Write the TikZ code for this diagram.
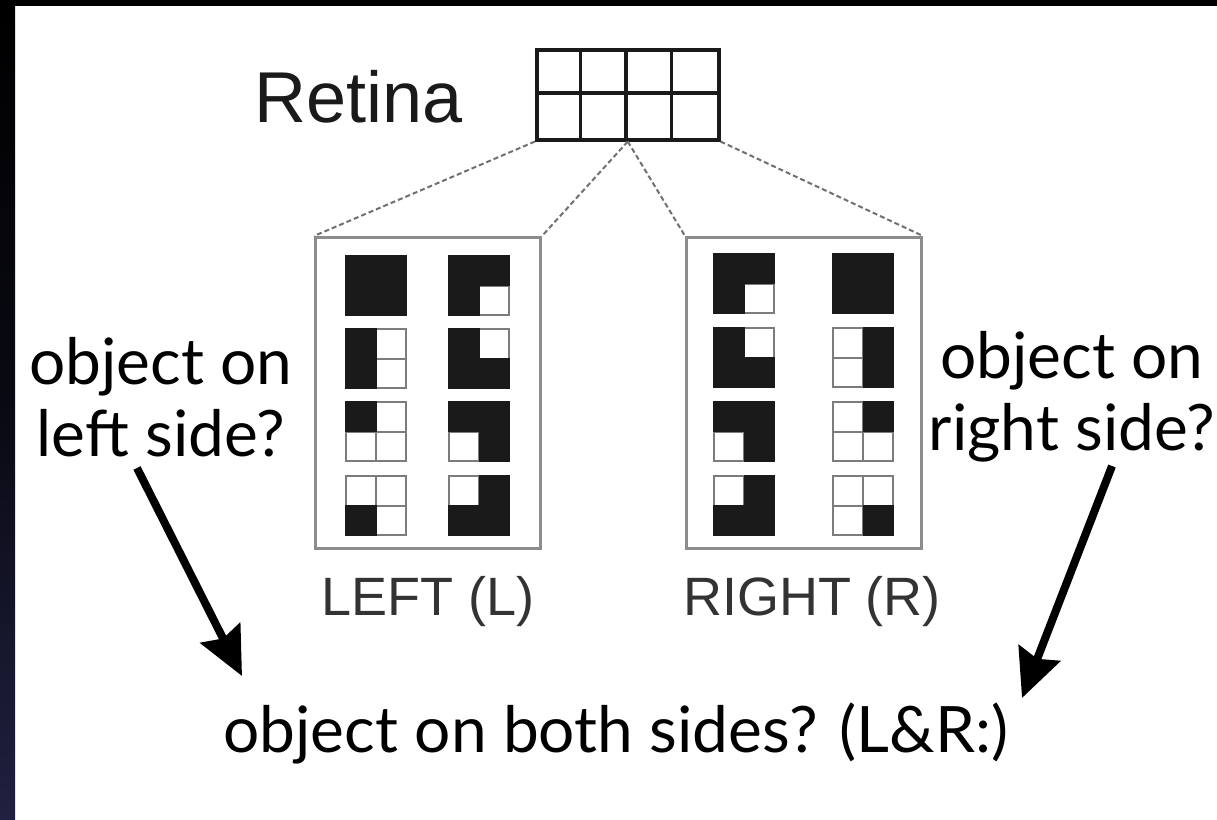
\documentclass[tikz,border=0pt]{standalone}
\usepackage{fontspec}
\setmainfont{Lato}
\newfontfamily\arialf{Liberation Sans}
\usetikzlibrary{arrows.meta}
\definecolor{ink}{HTML}{1A1A1A}
\definecolor{panelgray}{HTML}{8C8C8C}
\definecolor{cellgray}{HTML}{7C7C7C}
\definecolor{dashgray}{HTML}{707070}
\definecolor{labgray}{HTML}{333333}
\definecolor{navy}{RGB}{32,32,64}
\newcommand{\patsq}[6]{%
  \begin{scope}[shift={(#1,#2)}]
    \draw[cellline] (0,0) rectangle (60,59) (30,0) -- (30,59) (0,29.5) -- (60,29.5);
    \ifnum#3=1 \fill[ink] (-0.8,-0.8) rectangle (30.5,30);\fi
    \ifnum#4=1 \fill[ink] (29.5,-0.8) rectangle (60.8,30);\fi
    \ifnum#5=1 \fill[ink] (-0.8,29) rectangle (30.5,59.8);\fi
    \ifnum#6=1 \fill[ink] (29.5,29) rectangle (60.8,59.8);\fi
  \end{scope}}
\begin{document}
\begin{tikzpicture}[x=1pt,y=-1pt,
  gridbox/.style={draw=ink, line width=3.5pt, inner sep=0pt},
  gridline/.style={draw=ink, line width=3.5pt},
  panel/.style={draw=panelgray, line width=3pt, inner sep=0pt},
  cellline/.style={draw=cellgray, line width=2pt},
  link/.style={draw=dashgray, line width=2pt, dash pattern=on 5pt off 3pt},
  diag/.style={font=\arialf\fontsize{72}{80}\selectfont, text=ink, inner sep=0pt},
  sidelab/.style={font=\arialf\fontsize{54}{60}\selectfont, text=labgray, inner sep=0pt},
  question/.style={font=\fontsize{64}{72}\selectfont, text=black, inner sep=0pt, align=center},
  bigarrow/.style={line width=8pt, -{Stealth[length=48pt,width=44pt,inset=6pt]}}]
\useasboundingbox (0,0) rectangle (1217,819);
\fill[white] (0,0) rectangle (1217,819);
\fill[black] (0,0) rectangle (1217,6);
\shade[top color=black, bottom color=navy, middle color=black!70!navy] (0,0) rectangle (15,819);

% retina
\node[diag, anchor=base] (retlab) at (359,122) {Retina};
\node[gridbox, anchor=north west, minimum width=182pt, minimum height=90pt] (grid) at (535,48) {};
\foreach \i in {1,2,3} \draw[gridline] (535+\i*45.5,48) -- (535+\i*45.5,138);
\draw[gridline] (535,93) -- (717,93);

% panels
\node[panel, anchor=north west, minimum width=225pt, minimum height=311pt] (lbox) at (314,236) {};
\node[panel, anchor=north west, minimum width=235pt, minimum height=311pt] (rbox) at (685,236) {};

% dashed projections
\draw[link] (grid.south west) -- (lbox.north west);
\draw[link] (grid.south) -- (lbox.north east);
\draw[link] (grid.south) -- (rbox.north west);
\draw[link] (grid.south east) -- (rbox.north east);

% left panel patterns
\patsq{346}{256}{1}{1}{1}{1}
\patsq{346}{329}{1}{0}{1}{0}
\patsq{346}{402}{1}{0}{0}{0}
\patsq{346}{476}{0}{0}{1}{0}
\patsq{449}{256}{1}{1}{1}{0}
\patsq{449}{329}{1}{0}{1}{1}
\patsq{449}{402}{1}{1}{0}{1}
\patsq{449}{476}{0}{1}{1}{1}
% right panel patterns
\patsq{714}{254}{1}{1}{1}{0}
\patsq{714}{328}{1}{0}{1}{1}
\patsq{714}{402}{1}{1}{0}{1}
\patsq{714}{476}{0}{1}{1}{1}
\patsq{833}{254}{1}{1}{1}{1}
\patsq{833}{328}{0}{1}{0}{1}
\patsq{833}{402}{0}{1}{0}{0}
\patsq{833}{476}{0}{0}{0}{1}

\node[sidelab, anchor=base] (leftlab) at (428,615) {LEFT (L)};
\node[sidelab, anchor=base] (rightlab) at (812,615) {RIGHT (R)};

% questions
\node[question] (lq) at (161,397) {object on\\left side?};
\node[question] (rq) at (1072,397) {object on\\right side?};
\node[question, anchor=base] (both) at (616,752) {object on both sides? (L\&R:)};

\coordinate (la0) at (137,468);
\coordinate (la1) at (242,676);
\coordinate (ra0) at (1112,466);
\coordinate (ra1) at (1022,698);
\draw[bigarrow] (la0) -- (la1);
\draw[bigarrow] (ra0) -- (ra1);
\end{tikzpicture}
\end{document}
